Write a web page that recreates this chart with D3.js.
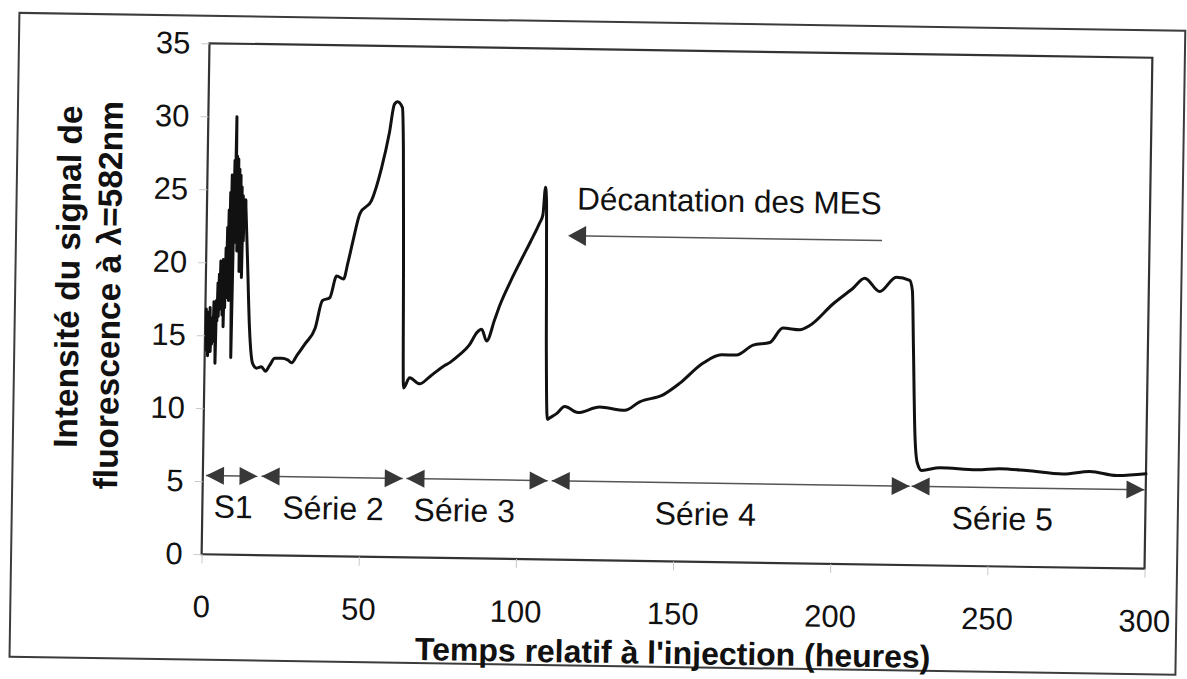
<!DOCTYPE html>
<html>
<head>
<meta charset="utf-8">
<script src="https://cdn.jsdelivr.net/npm/d3@7"></script>
<style>
  body { margin: 0; background: #fff; }
  svg { display: block; }
  text { font-family: "Liberation Sans", Arial, sans-serif; fill: #111; }
</style>
</head>
<body>
<svg id="chart" width="1187" height="679"></svg>
<script>
// Axis ticks
const timeTicks = [0, 50, 100, 150, 200, 250, 300];
const intensityTicks = [0, 5, 10, 15, 20, 25, 30, 35];

// Noisy start of the record (S1), hours / signal
const burstHours = [0.3,0.5,0.7,0.9,1.1,1.3,1.5,1.7,1.9,2.1,2.3,2.5,2.7,2.9,3.1,3.3,3.5,3.7,3.9,4.1,
  4.3,4.5,4.7,4.9,5.1,5.3,5.5,5.7,5.9,6.1,6.3,6.5,6.7,6.9,7.1,7.3,7.5,7.7,7.9,8.1,
  8.3,8.5,8.7,8.9,9.1,9.3,9.5,9.7,9.9,10.1,10.3,10.5,10.7,10.9,11.1,11.3,11.5,11.7,11.9,12.1,12.3];
const burstSignal = [16.8,14.0,16.6,13.6,15.8,14.2,16.9,13.9,15.4,14.4,16.2,14.6,17.3,15.1,16.4,13.1,17.4,16.0,18.6,16.3,
  19.2,16.8,20.1,17.2,19.6,16.4,20.2,15.6,19.8,16.9,21.0,17.6,22.4,18.2,23.6,17.4,24.8,18.6,26.0,19.0,
  13.5,20.5,27.0,21.4,30.0,22.6,27.3,20.8,27.1,21.6,26.4,19.4,26.0,20.6,25.2,19.0,24.6,21.5,24.0,22.4,24.3];

// Rest of the record (séries 2 to 5), hours / signal
const traceHours = [12.3,13.2,14.1,15.3,16.6,18.1,19.4,20.7,22.3,24.5,26.4,27.7,29.3,31.8,35.0,37.2,39.5,41.6,43.8,45.1,46.6,
  48.7,52.3,55.3,57.7,59.1,60.1,61.7,62.2,62.8,63.4,
  65.3,68.5,71.7,75.8,78.1,80.9,84.1,86.6,88.0,89.6,92.1,93.7,96.9,100.0,103.2,105.8,106.9,107.6,108.0,108.6,109.3,
  110.0,112.2,114.8,119.0,125.9,133.9,138.6,146.0,151.2,158.5,164.4,169.1,174.4,179.7,183.8,189.2,192.3,199.6,205.9,
  209.6,214.4,219.6,223.9,224.8,225.4,226.3,227.2,228.6,
  234.4,246.1,253.4,262.0,273.6,282.2,290.6,300.0];
const traceSignal = [24.3,20.0,15.6,13.1,12.8,12.9,12.6,13.0,13.5,13.5,13.4,13.2,13.7,14.5,15.6,17.5,17.7,19.2,19.0,20.1,21.6,
  23.5,24.4,26.6,29.1,31.0,31.2,30.8,28.0,20.0,11.6,
  12.3,11.9,12.4,13.1,13.4,13.9,14.6,15.5,15.7,14.9,16.4,17.4,19.0,20.4,21.8,23.0,23.6,25.5,24.5,15.0,9.6,
  9.7,10.0,10.5,10.1,10.5,10.3,10.9,11.4,12.2,13.6,14.2,14.2,14.9,15.1,16.1,16.0,16.3,17.8,18.9,
  19.6,18.7,19.7,19.5,18.8,15.0,9.0,7.0,6.5,
  6.7,6.6,6.7,6.6,6.4,6.6,6.35,6.5];

// Test series along the time axis
const seriesNames = ["S1", "Série 2", "Série 3", "Série 4", "Série 5"];
const seriesStart = [1.0, 18.7, 64.8, 111.0, 225.5];
const seriesEnd = [17.4, 63.6, 109.7, 224.9, 299.6];
const seriesLabelHour = [9.8, 41.6, 83.3, 160.0, 254.5];
const seriesLevel = 5.4;

// Settling annotation
const noteText = "Décantation des MES";
const noteHour = 117.7, noteLevel = 24.0;
const noteArrowFrom = 214.9, noteArrowTo = 115.0, noteArrowLevel = 22.2;

const svg = d3.select("#chart");
const plot = { left: 205.5, right: 1148.5, top: 50.5, bottom: 561.5 };

// The whole sheet sits slightly skewed on the page
const sheet = svg.append("g").attr("transform", "rotate(0.88,677,306)");

const x = d3.scaleLinear().domain([0, 300]).range([plot.left, plot.right]);
const y = d3.scaleLinear().domain([0, 35]).range([plot.bottom, plot.top]);

// Outer frame
sheet.append("rect")
  .attr("x", 15).attr("y", 23).attr("width", 1166).attr("height", 644)
  .attr("fill", "none").attr("stroke", "#3c3c3c").attr("stroke-width", 2);

// Plot frame
sheet.append("rect")
  .attr("x", plot.left).attr("y", plot.top)
  .attr("width", plot.right - plot.left).attr("height", plot.bottom - plot.top)
  .attr("fill", "#fff").attr("stroke", "#333").attr("stroke-width", 2.2);

// Axes
const yAxis = sheet.append("g")
  .attr("transform", `translate(${plot.left},0)`)
  .call(d3.axisLeft(y).tickValues(intensityTicks).tickSize(8).tickPadding(11));
yAxis.select(".domain").remove();
yAxis.selectAll(".tick line").attr("stroke", "#c8c8c8");
yAxis.selectAll(".tick text").style("font-size", "31px").attr("fill", "#111");

const xAxis = sheet.append("g")
  .attr("transform", `translate(0,${plot.bottom})`)
  .call(d3.axisBottom(x).tickValues(timeTicks).tickSize(9).tickPadding(32));
xAxis.select(".domain").remove();
xAxis.selectAll(".tick line").attr("stroke", "#c8c8c8");
xAxis.selectAll(".tick text").style("font-size", "31px").attr("fill", "#111");

// Axis titles
sheet.append("text")
  .attr("x", 678).attr("y", 664)
  .attr("text-anchor", "middle")
  .style("font-size", "32px").style("font-weight", "bold")
  .text("Temps relatif à l'injection (heures)");

const yTitle = [
  { text: "Intensité du signal de", base: 79, mid: 286 },
  { text: "fluorescence à λ=582nm", base: 120, mid: 304 }
];
sheet.selectAll(".ytitle").data(yTitle).join("text")
  .attr("class", "ytitle")
  .attr("transform", d => `translate(${d.base},${d.mid}) rotate(-90)`)
  .attr("text-anchor", "middle")
  .style("font-size", "33.5px").style("font-weight", "bold")
  .text(d => d.text);

// Fluorescence trace: jagged burst, then the smoother recorder trace
const burst = burstHours.map((h, i) => [h, burstSignal[i]]);
const rest = traceHours.map((h, i) => [h, traceSignal[i]]);
const lineStyle = sel => sel.attr("fill", "none").attr("stroke", "#111")
  .attr("stroke-width", 3).attr("stroke-linejoin", "round").attr("stroke-linecap", "round");
sheet.append("path").datum(burst).call(lineStyle)
  .attr("d", d3.line().x(d => x(d[0])).y(d => y(d[1])));
sheet.append("path").datum(rest).call(lineStyle)
  .attr("d", d3.line().curve(d3.curveMonotoneX).x(d => x(d[0])).y(d => y(d[1])));

// Series spans: double-headed arrows with labels
const headLen = 18, headHalf = 9;
function head(tipX, tipY, dir, half) {
  // dir = -1 points left, +1 points right
  const bx = tipX - dir * headLen;
  return `M${tipX},${tipY}L${bx},${tipY - half}L${bx},${tipY + half}Z`;
}
const spans = seriesNames.map((n, i) => ({ n, a: seriesStart[i], b: seriesEnd[i], c: seriesLabelHour[i] }));
const sy = y(seriesLevel);
const spanG = sheet.append("g");
spanG.selectAll("line").data(spans).join("line")
  .attr("x1", d => x(d.a)).attr("x2", d => x(d.b))
  .attr("y1", sy).attr("y2", sy)
  .attr("stroke", "#555").attr("stroke-width", 1.5);
spanG.selectAll(".hl").data(spans).join("path").attr("class", "hl")
  .attr("d", d => head(x(d.a), sy, -1, headHalf)).attr("fill", "#383838");
spanG.selectAll(".hr").data(spans).join("path").attr("class", "hr")
  .attr("d", d => head(x(d.b), sy, 1, headHalf)).attr("fill", "#383838");
spanG.selectAll("text").data(spans).join("text")
  .attr("x", d => x(d.c)).attr("y", sy + 42)
  .attr("text-anchor", "middle")
  .style("font-size", "32px")
  .text(d => d.n);

// Settling annotation
const ny = y(noteArrowLevel);
sheet.append("line")
  .attr("x1", x(noteArrowFrom)).attr("x2", x(noteArrowTo) + 4)
  .attr("y1", ny).attr("y2", ny)
  .attr("stroke", "#555").attr("stroke-width", 1.5);
sheet.append("path")
  .attr("d", head(x(noteArrowTo), ny, -1, 10)).attr("fill", "#383838");
sheet.append("text")
  .attr("x", x(noteHour)).attr("y", y(noteLevel))
  .style("font-size", "31.5px")
  .text(noteText);
</script>
</body>
</html>
